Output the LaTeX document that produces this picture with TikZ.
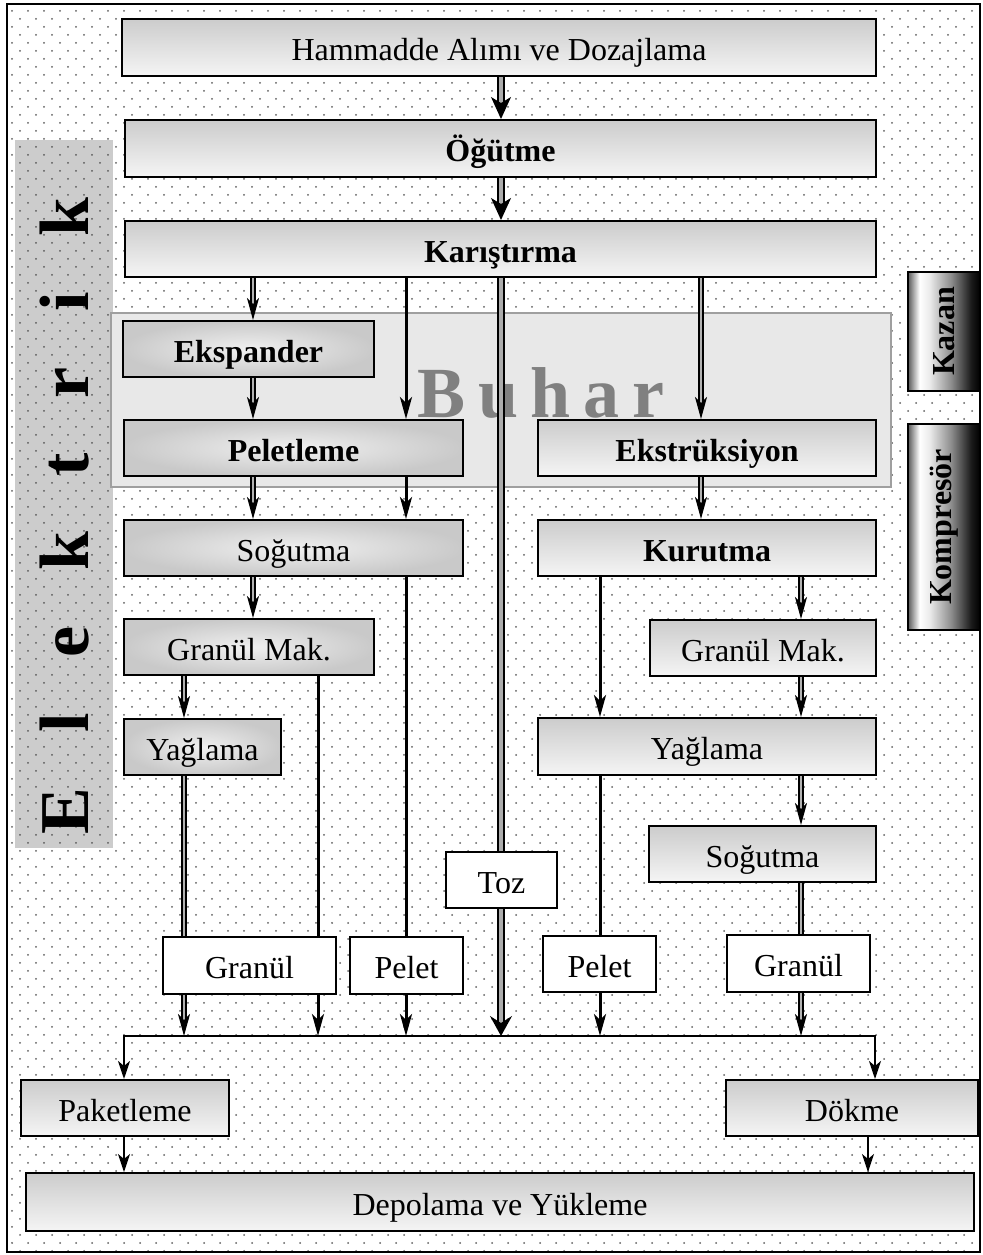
\documentclass[tikz,border=0pt]{standalone}
\usepackage{fontspec}
\setmainfont{Liberation Serif}
\usetikzlibrary{arrows.meta,patterns}
\pgfdeclarelayer{bgA}\pgfdeclarelayer{bgB}
\pgfsetlayers{bgA,bgB,main}
\pgfdeclarepatternformonly{mydots}{\pgfqpoint{-1pt}{-1pt}}{\pgfqpoint{9pt}{9pt}}{\pgfqpoint{8pt}{8pt}}{%
  \pgfpathcircle{\pgfqpoint{2pt}{2pt}}{0.5pt}%
  \pgfpathcircle{\pgfqpoint{6pt}{6pt}}{0.5pt}%
  \pgfusepath{fill}}
\pgfdeclarehorizontalshading{cyl}{100bp}{color(0bp)=(black!65); color(25bp)=(black!65); color(33bp)=(white); color(40bp)=(white!92!black); color(55bp)=(black!45); color(69bp)=(black!90); color(75bp)=(black); color(100bp)=(black)}
\newcommand\fs{\fontsize{16}{19}\selectfont}
\newcommand\bx[7]{\node[bxbase,#6,minimum width={(#4-#2)*0.5pt},minimum height={(#5-#3)*0.5pt}] (#1) at ({(#2+#4)/2},{(#3+#5)/2}) {#7};}
\begin{document}
\begin{tikzpicture}[x=0.5pt,y=-0.5pt,
  bxbase/.style={draw,line width=1pt,inner sep=0pt,font=\fs},
  txt/.style={text height=13.5pt,text depth=0.5pt},
  lin/.style={txt,top color=gray!40,bottom color=gray!8},
  rad/.style={txt,inner color=gray!12,outer color=gray!42},
  wht/.style={txt,fill=white},
  cylbox/.style={shade,shading=cyl},
  dbl/.style={line width=0.8pt,double=gray!60,double distance=1pt},
  bigdbl/.style={line width=0.85pt,double=gray!65,double distance=2pt},
  thk/.style={line width=1.5pt},
  bus/.style={line width=1.25pt},
  thn/.style={line width=0.75pt},
  tp/.style={-{Stealth[length=11pt,width=6pt,inset=3pt]}},
  btp/.style={-{Stealth[length=11pt,width=10pt,inset=3pt]}},
  ztp/.style={-{Stealth[length=10pt,width=11pt,inset=3.5pt]}},
  stp/.style={-{Stealth[length=9pt,width=6pt,inset=2.5pt]}}]
\useasboundingbox (0,0) rectangle (982,1255);
\begin{pgfonlayer}{bgA}
  \fill[white] (0,0) rectangle (982,1255);
  \fill[pattern=mydots,pattern color=gray!75!black] (7,4) rectangle (980,1252);
  \fill[gray!40] (15,140) rectangle (113,848);
  \fill[pattern=mydots,pattern color=gray!70!black] (15,140) rectangle (113,848);
  \filldraw[fill=gray!18,draw=gray!75,line width=0.75pt] (111,313) rectangle (891,487);
  \node[anchor=base,font=\fontsize{36}{40}\selectfont\bfseries,text=gray,inner sep=0pt] (buhar) at (541,417) {\makebox[123.5pt]{B\hfill u\hfill h\hfill a\hfill r}};
  \node[rotate=90,anchor=base,font=\fontsize{35}{40}\selectfont\bfseries,inner sep=0pt] (elek) at (88,516) {\makebox[318pt]{E\hfill l\hfill e\hfill k\hfill t\hfill r\hfill i\hfill k}};
\end{pgfonlayer}
% boxes
\bx{ham}{122}{19}{876}{76}{lin}{Hammadde Alımı ve Dozajlama}
\bx{ogu}{125}{120}{876}{177}{lin}{\bfseries Öğütme}
\bx{kar}{125}{221}{876}{277}{lin}{\bfseries Karıştırma}
\bx{eks}{123}{321}{374}{377}{rad}{\bfseries Ekspander}
\bx{pel}{124}{420}{463}{476}{rad}{\bfseries Peletleme}
\bx{ext}{538}{420}{876}{476}{lin}{\bfseries Ekstrüksiyon}
\bx{sogL}{124}{520}{463}{576}{rad}{Soğutma}
\bx{kur}{538}{520}{876}{576}{lin}{\bfseries Kurutma}
\bx{gmL}{124}{619}{374}{675}{rad}{Granül Mak.}
\bx{gmR}{650}{620}{876}{676}{lin}{Granül Mak.}
\bx{yagL}{124}{719}{281}{775}{rad}{Yağlama}
\bx{yagR}{538}{718}{876}{775}{lin}{Yağlama}
\bx{sogR}{649}{826}{876}{882}{lin}{Soğutma}
\bx{toz}{446}{852}{557}{908}{wht}{Toz}
\bx{granL}{163}{937}{336}{994}{wht}{Granül}
\bx{peletL}{350}{937}{463}{994}{wht}{Pelet}
\bx{peletR}{543}{936}{656}{992}{wht}{Pelet}
\bx{granR}{727}{935}{870}{992}{wht}{Granül}
\bx{pak}{21}{1080}{229}{1136}{lin}{Paketleme}
\bx{dok}{726}{1080}{978}{1136}{lin}{Dökme}
\bx{dep}{26}{1173}{974}{1231}{lin}{Depolama ve Yükleme}
\bx{kaz}{908}{272}{980}{391}{cylbox}{\rotatebox{90}{\bfseries Kazan}}
\bx{komp}{908}{424}{980}{630}{cylbox}{\rotatebox{90}{\bfseries Kompresör}}
\draw[line width=0.9pt] (7,4) rectangle (980,1252);
% columns
\coordinate (cA) at (184,0);
\coordinate (cB) at (253,0);
\coordinate (cC) at (318,0);
\coordinate (cD) at (406,0);
\coordinate (cE) at (501,0);
\coordinate (cF) at (600,0);
\coordinate (cG) at (701,0);
\coordinate (cH) at (801,0);
\coordinate (cQ) at (868,0);
\coordinate (bl) at (124,1036);
\coordinate (br) at (875,1036);
\begin{pgfonlayer}{bgB}
  \draw[bigdbl,btp] (cE |- ham.south) -- (cE |- ogu.north);
  \draw[bigdbl,btp] (cE |- ogu.south) -- (cE |- kar.north);
  \draw[dbl,tp] (cB |- kar.south) -- (cB |- eks.north);
  \draw[thk,tp] (cD |- kar.south) -- (cD |- pel.north);
  \draw[bigdbl] (cE |- kar.south) -- (cE |- toz.north);
  \draw[bigdbl,ztp] (cE |- toz.south) -- (cE |- bl);
  \draw[dbl,tp] (cG |- kar.south) -- (cG |- ext.north);
  \draw[dbl,tp] (cB |- eks.south) -- (cB |- pel.north);
  \draw[dbl,tp] (cB |- pel.south) -- (cB |- sogL.north);
  \draw[thk,tp] (cD |- pel.south) -- (cD |- sogL.north);
  \draw[dbl,tp] (cG |- ext.south) -- (cG |- kur.north);
  \draw[dbl,tp] (cB |- sogL.south) -- (cB |- gmL.north);
  \draw[thk] (cD |- sogL.south) -- (cD |- peletL.north);
  \draw[thk,tp] (cD |- peletL.south) -- (cD |- bl);
  \draw[dbl,tp] (cA |- gmL.south) -- (cA |- yagL.north);
  \draw[thk] (cC |- gmL.south) -- (cC |- granL.north);
  \draw[dbl] (cA |- yagL.south) -- (cA |- granL.north);
  \draw[dbl,tp] (cA |- granL.south) -- (cA |- bl);
  \draw[thk,tp] (cC |- granL.south) -- (cC |- bl);
  \draw[thk,tp] (cF |- kur.south) -- (cF |- yagR.north);
  \draw[dbl,tp] (cH |- kur.south) -- (cH |- gmR.north);
  \draw[dbl,tp] (cH |- gmR.south) -- (cH |- yagR.north);
  \draw[dbl,tp] (cH |- yagR.south) -- (cH |- sogR.north);
  \draw[thk] (cF |- yagR.south) -- (cF |- peletR.north);
  \draw[thk,tp] (cF |- peletR.south) -- (cF |- bl);
  \draw[dbl] (cH |- sogR.south) -- (cH |- granR.north);
  \draw[dbl,tp] (cH |- granR.south) -- (cH |- bl);
  \draw[bus,{Stealth[length=9pt,width=6pt,inset=2.5pt]}-{Stealth[length=9pt,width=6pt,inset=2.5pt]}] (bl |- pak.north) -- (bl) -- (br) -- (br |- dok.north);
  \draw[thn,stp] (bl |- pak.south) -- (bl |- dep.north);
  \draw[thn,stp] (cQ |- dok.south) -- (cQ |- dep.north);
\end{pgfonlayer}
\end{tikzpicture}
\end{document}
